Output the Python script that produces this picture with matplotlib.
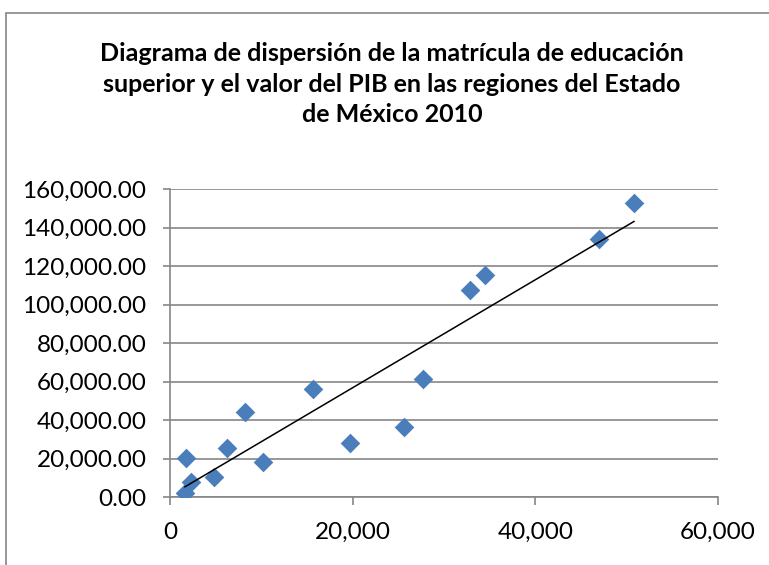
import numpy as np
import matplotlib.pyplot as plt
from matplotlib.patches import Rectangle
from matplotlib.ticker import FuncFormatter

# Matrícula de educación superior (x) y PIB (y) por región
matricula = [1640, 1750, 2300, 4820, 6200, 8180, 10220, 15620,
             19710, 25660, 27740, 32850, 34450, 46970, 50800]
pib = [1900, 20500, 8000, 10600, 25500, 44400, 18200, 55900,
       28200, 36600, 61300, 107400, 115200, 133900, 152900]

titulo = ('Diagrama de dispersión de la matrícula de educación\n'
          'superior y el valor del PIB en las regiones del Estado\n'
          'de México 2010')

plt.rcParams['font.family'] = ['Lato', 'DejaVu Sans']

fig = plt.figure(figsize=(7.69, 5.65), dpi=100)
ax = fig.add_axes([170 / 769, 1 - 497 / 565, 548 / 769, 308 / 565])

# marco del gráfico (recortado a la derecha y abajo)
fig.patches.append(Rectangle((6 / 769, -0.1), 1.2, 1 - 13 / 565 + 0.1,
                             transform=fig.transFigure, fill=False,
                             edgecolor='#868686', linewidth=1.2))

ax.scatter(matricula, pib, marker='D', s=100, color='#4A7EBB',
           linewidths=0, zorder=3)

# línea de tendencia lineal
m, b = np.polyfit(matricula, pib, 1)
xs = np.array([min(matricula), max(matricula)])
ax.plot(xs, m * xs + b, color='black', linewidth=1.1, zorder=4)

ax.set_xlim(0, 60000)
ax.set_ylim(0, 160000)
ax.set_xticks(np.arange(0, 60001, 20000))
ax.set_yticks(np.arange(0, 160001, 20000))
ax.xaxis.set_major_formatter(FuncFormatter(lambda v, p: f'{v:,.0f}'))
ax.yaxis.set_major_formatter(FuncFormatter(lambda v, p: f'{v:,.2f}'))

ax.grid(axis='y', color='#868686', linewidth=1.2)
ax.set_axisbelow(True)
for s in ['top', 'right']:
    ax.spines[s].set_visible(False)
for s in ['left', 'bottom']:
    ax.spines[s].set_color('#868686')
    ax.spines[s].set_linewidth(1.2)
ax.tick_params(axis='both', colors='#868686', labelcolor='black',
               labelsize=17.5, width=1.2)
ax.tick_params(axis='y', length=5, pad=12)
ax.tick_params(axis='x', length=6, pad=12)

fig.text(392 / 769, 1 - 84 / 565, titulo, ha='center', va='center',
         fontsize=18, fontweight='bold', linespacing=1.38)

fig.savefig('out.png', dpi=100)
